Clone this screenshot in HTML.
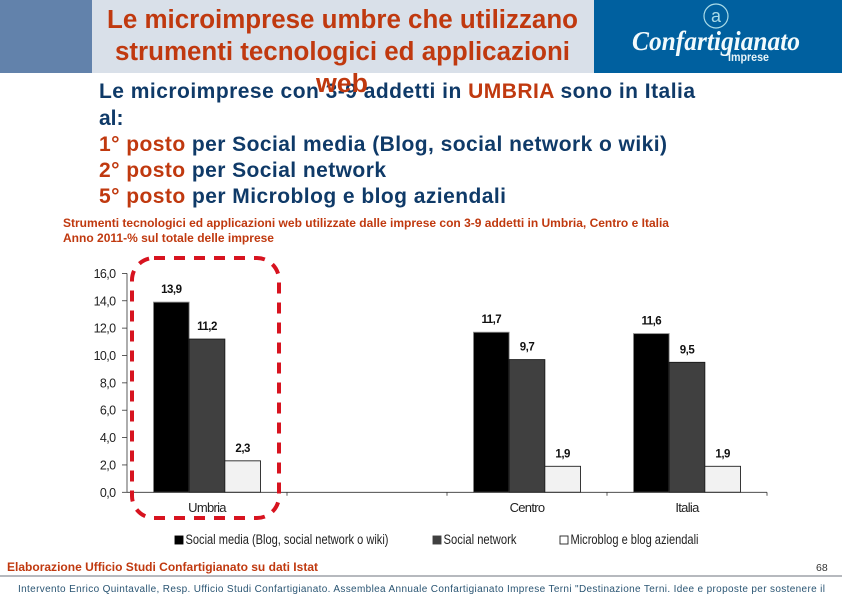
<!DOCTYPE html>
<html lang="it">
<head>
<meta charset="utf-8">
<title>Le microimprese umbre</title>
<style>
html,body{margin:0;padding:0;background:#fff;width:842px;height:595px;overflow:hidden}
svg{display:block}
text{font-family:"Liberation Sans",sans-serif}
</style>
</head>
<body>
<svg id="slide" width="842" height="595" viewBox="0 0 842 595" xmlns="http://www.w3.org/2000/svg">
  <rect x="0" y="0" width="92" height="73" fill="#6282ab"/>
  <rect x="92" y="0" width="502" height="73" fill="#d9e0e9"/>
  <rect x="594" y="0" width="248" height="73" fill="#00609f"/>

  <g>
    <circle cx="716" cy="16" r="12" fill="none" stroke="#a9dbe8" stroke-width="1.2"/>
    <text x="716" y="22" text-anchor="middle" font-size="18" fill="#a9dbe8">a</text>
    <text x="632" y="50" font-size="27" font-weight="bold" font-style="italic" fill="#f2fafc" textLength="168" lengthAdjust="spacingAndGlyphs" style="font-family:'Liberation Serif',serif">Confartigianato</text>
    <text x="728" y="61" font-size="12" font-weight="bold" fill="#e6f3f8" textLength="41" lengthAdjust="spacingAndGlyphs">Imprese</text>
  </g>

  <g font-weight="bold" font-size="25.5" fill="#c0390f">
    <text x="107" y="28" textLength="471" lengthAdjust="spacingAndGlyphs">Le microimprese umbre che utilizzano</text>
    <text x="115" y="60" textLength="455" lengthAdjust="spacingAndGlyphs">strumenti tecnologici ed applicazioni</text>
  </g>

  <g font-weight="bold" font-size="21" fill="#0f3a68">
    <text x="99" y="98" textLength="596" lengthAdjust="spacing">Le microimprese con 3-9 addetti in <tspan fill="#c0390f">UMBRIA</tspan> sono in Italia</text>
    <text x="99" y="125">al:</text>
    <text x="99" y="151" textLength="568" lengthAdjust="spacing"><tspan fill="#c0390f">1° posto</tspan> per Social media (Blog, social network o wiki)</text>
    <text x="99" y="177" textLength="287" lengthAdjust="spacing"><tspan fill="#c0390f">2° posto</tspan> per Social network</text>
    <text x="99" y="203" textLength="407" lengthAdjust="spacing"><tspan fill="#c0390f">5° posto</tspan> per Microblog e blog aziendali</text>
  </g>
  <text x="316" y="92" font-weight="bold" font-size="25.5" fill="#c0390f" textLength="52" lengthAdjust="spacingAndGlyphs">web</text>

  <g font-weight="bold" font-size="12" fill="#c0390f">
    <text x="63" y="227" textLength="606" lengthAdjust="spacingAndGlyphs">Strumenti tecnologici ed applicazioni web utilizzate dalle imprese con 3-9 addetti in Umbria, Centro e Italia</text>
    <text x="63" y="242" textLength="211" lengthAdjust="spacingAndGlyphs">Anno 2011-% sul totale delle imprese</text>
  </g>

  <g id="chart"></g>

  <rect x="132" y="258" width="147" height="260" rx="22" ry="22" fill="none" stroke="#d7131f" stroke-width="4" stroke-dasharray="11 9"/>

  <g id="legend"></g>

  <text x="7" y="571" font-weight="bold" font-size="12" fill="#c0390f" textLength="311" lengthAdjust="spacingAndGlyphs">Elaborazione Ufficio Studi Confartigianato su dati Istat</text>
  <text x="816" y="571" font-size="10.5" fill="#333">68</text>
  <line x1="0" y1="576" x2="842" y2="576" stroke="#8a8f96" stroke-width="1.3"/>
  <text x="18" y="592" font-size="10" fill="#2a5573" textLength="807" lengthAdjust="spacing">Intervento Enrico Quintavalle, Resp. Ufficio Studi Confartigianato. Assemblea Annuale Confartigianato Imprese Terni "Destinazione Terni. Idee e proposte per sostenere il</text>
</svg>

<script>
var categories = ['Umbria', '', 'Centro', 'Italia'];
var socialMedia = [13.9, null, 11.7, 11.6];
var socialNetwork = [11.2, null, 9.7, 9.5];
var microblog = [2.3, null, 1.9, 1.9];
var yTicks = [0, 2, 4, 6, 8, 10, 12, 14, 16];
var seriesNames = ['Social media (Blog, social network o wiki)', 'Social network', 'Microblog e blog aziendali'];

var NS = 'http://www.w3.org/2000/svg';
var chart = document.getElementById('chart');
var legend = document.getElementById('legend');
var plot = { left: 127, right: 767, top: 273.4, bottom: 492.3, yMax: 16 };
var seriesValues = [socialMedia, socialNetwork, microblog];
var seriesFill = ['#000000', '#404040', '#f2f2f2'];
var seriesStroke = ['#8c8c8c', '#1a1a1a', '#222222'];

function yScale(v) {
  return plot.bottom - (v / plot.yMax) * (plot.bottom - plot.top);
}
function catWidth() {
  return (plot.right - plot.left) / categories.length;
}
function catCenter(i) {
  return plot.left + catWidth() * (i + 0.5);
}
function barX(i, s) {
  var w = catWidth() * 0.223;
  return catCenter(i) - 1.5 * w + s * w;
}
function barW() {
  return catWidth() * 0.223;
}
function fmt(v, digits) {
  return v.toFixed(digits).replace('.', ',');
}
function make(tag, parent, attrs, txt) {
  var el = document.createElementNS(NS, tag);
  for (var k in attrs) { el.setAttribute(k, attrs[k]); }
  if (txt !== undefined) { el.textContent = txt; }
  parent.appendChild(el);
  return el;
}

seriesValues.forEach(function (values, s) {
  values.forEach(function (v, i) {
    if (v === null) { return; }
    var bar = make('rect', chart, {
      x: barX(i, s), y: yScale(v), width: barW(), height: plot.bottom - yScale(v),
      fill: seriesFill[s], stroke: seriesStroke[s], 'stroke-width': 0.9
    });
    
    
    var label = make('text', chart, {
      x: barX(i, s) + barW() / 2, y: yScale(v) - 9, 'text-anchor': 'middle',
      'font-size': 11.5, 'font-weight': 'bold', 'letter-spacing': -0.5, fill: '#111'
    }, fmt(v, 1));
    
    
  });
});

var yAxis = make('line', chart, { x1: plot.left, y1: plot.top, x2: plot.left, y2: plot.bottom, stroke: '#333', 'stroke-width': 0.8 });


var xAxis = make('line', chart, { x1: plot.left, y1: plot.bottom, x2: plot.right, y2: plot.bottom, stroke: '#333', 'stroke-width': 0.9 });



yTicks.forEach(function (t) {
  var tick = make('line', chart, { x1: plot.left - 5, y1: yScale(t), x2: plot.left, y2: yScale(t), stroke: '#333', 'stroke-width': 0.8 });
  
  
  var label = make('text', chart, {
    x: 115.5, y: yScale(t) + 4.5, 'text-anchor': 'end', 'font-size': 12.5, 'letter-spacing': -0.6, fill: '#222'
  }, fmt(t, 1));
  
  
});

categories.forEach(function (c, i) {
  var tx = plot.left + catWidth() * (i + 1);
  var tick = make('line', chart, { x1: tx, y1: plot.bottom, x2: tx, y2: plot.bottom + 3.5, stroke: '#333', 'stroke-width': 0.8 });
  
  
  if (c) {
    var label = make('text', chart, {
      x: catCenter(i), y: 512, 'text-anchor': 'middle', 'font-size': 13, 'letter-spacing': -0.7, fill: '#222'
    }, c);
    
    
  }
});

var legendSwatchX = [175, 433, 560];
var legendTextWidth = [203, 73, 128];
seriesNames.forEach(function (name, s) {
  var sw = make('rect', legend, {
    x: legendSwatchX[s], y: 536, width: 8, height: 8, fill: s === 2 ? '#ffffff' : seriesFill[s],
    stroke: s === 2 ? '#222' : seriesFill[s], 'stroke-width': 0.9
  });
  
  
  var label = make('text', legend, {
    x: legendSwatchX[s] + 10.5, y: 544, 'font-size': 13.5, fill: '#222',
    textLength: legendTextWidth[s], lengthAdjust: 'spacingAndGlyphs'
  }, name);
  
  
});
</script>
</body>
</html>
